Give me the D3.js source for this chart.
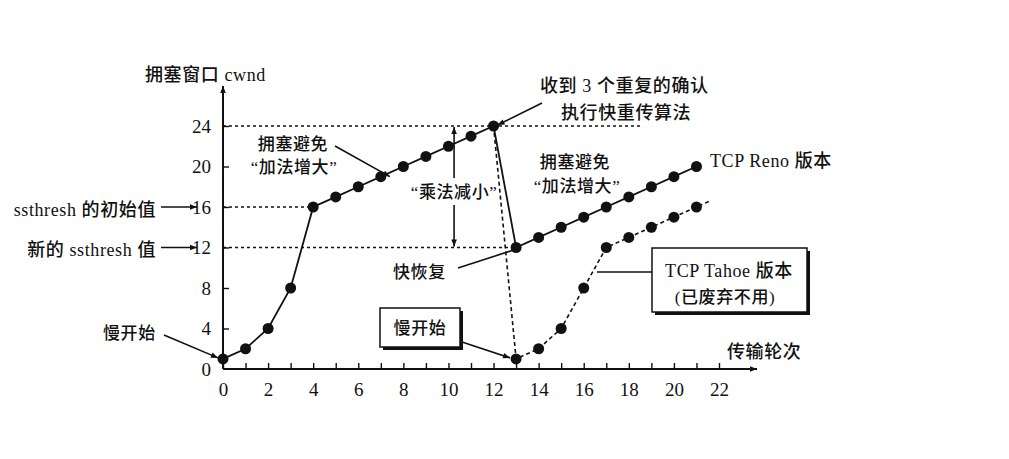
<!DOCTYPE html>
<html><head><meta charset="utf-8">
<script src="https://cdn.jsdelivr.net/npm/d3@7"></script>
<style>
body{margin:0;background:#fff;}
svg text{font-family:"Liberation Serif","Noto Sans CJK SC",serif;fill:#111;font-weight:500;}
</style></head>
<body><svg id="c" width="1009" height="459"></svg>
<script>
const renoX = [0,1,2,3,4,5,6,7,8,9,10,11,12,13,14,15,16,17,18,19,20,21];
const renoY = [1,2,4,8,16,17,18,19,20,21,22,23,24,12,13,14,15,16,17,18,19,20];
const tahoeX = [13,14,15,16,17,18,19,20,21];
const tahoeY = [1,2,4,8,12,13,14,15,16];
const xTicks = [0,2,4,6,8,10,12,14,16,18,20,22];
const yTicks = [0,4,8,12,16,20,24];

const svg = d3.select("#c");
const x = d3.scaleLinear().domain([0,22]).range([223,719]);
const y = d3.scaleLinear().domain([0,24]).range([369,126]);
const ink = "#111";

const defs = svg.append("defs");
defs.append("marker").attr("id","ah").attr("viewBox","0 0 10 10").attr("refX",10).attr("refY",5)
  .attr("markerWidth",9).attr("markerHeight",7).attr("markerUnits","userSpaceOnUse").attr("orient","auto")
  .append("path").attr("d","M0,1 L10,5 L0,9 Z").attr("fill",ink);

// threshold dashed lines
const dashLines = [[24, x(18.6)],[16, x(4)],[12, x(13)]];
dashLines.forEach(d=>{
  svg.append("line").attr("x1",x(0)).attr("x2",d[1]).attr("y1",y(d[0])).attr("y2",y(d[0]))
    .attr("stroke",ink).attr("stroke-width",1.3).attr("stroke-dasharray","3,3");
});

// axes
const xAxis = d3.axisBottom(x).tickValues(d3.range(0,23,1)).tickSize(-6).tickFormat(d=>xTicks.includes(d)?d:"").tickPadding(14);
const gx = svg.append("g").attr("transform",`translate(0,${y(0)})`).call(xAxis);
gx.select(".domain").remove();
gx.selectAll("line").attr("stroke",ink).attr("stroke-width",1.4);
gx.selectAll("text").attr("font-size",19).attr("font-family","Liberation Serif").attr("fill",ink);
svg.append("line").attr("x1",x(0)).attr("x2",757).attr("y1",y(0)).attr("y2",y(0))
  .attr("stroke",ink).attr("stroke-width",2).attr("marker-end","url(#ah)");

const yAxis = d3.axisLeft(y).tickValues(yTicks).tickSize(-6).tickPadding(12);
const gy = svg.append("g").attr("transform",`translate(${x(0)},0)`).call(yAxis);
gy.select(".domain").remove();
gy.selectAll("line").attr("stroke",ink).attr("stroke-width",1.4);
gy.selectAll("text").attr("font-size",19).attr("font-family","Liberation Serif").attr("fill",ink);
gy.selectAll(".tick").filter(d=>d===0).select("line").remove();
svg.append("line").attr("x1",x(0)).attr("x2",x(0)).attr("y1",y(0)).attr("y2",86)
  .attr("stroke",ink).attr("stroke-width",2).attr("marker-end","url(#ah)");

// Reno
const reno = renoX.map((v,i)=>[v,renoY[i]]);
const tahoe = tahoeX.map((v,i)=>[v,tahoeY[i]]);
const line = d3.line().x(d=>x(d[0])).y(d=>y(d[1]));
svg.append("path").attr("d",line(reno)).attr("fill","none").attr("stroke",ink).attr("stroke-width",1.8);
// Tahoe dashed from peak
const tahoePath = [reno[12]].concat(tahoe);
const ext = [tahoe[tahoe.length-1][0]+0.6, tahoe[tahoe.length-1][1]+0.6];
svg.append("path").attr("d",line(tahoePath.concat([ext]))).attr("fill","none").attr("stroke",ink)
  .attr("stroke-width",1.6).attr("stroke-dasharray","4,3");

svg.selectAll("circle.r").data(reno).join("circle").attr("class","r")
  .attr("cx",d=>x(d[0])).attr("cy",d=>y(d[1])).attr("r",5.5).attr("fill",ink);
svg.selectAll("circle.t").data(tahoe).join("circle").attr("class","t")
  .attr("cx",d=>x(d[0])).attr("cy",d=>y(d[1])).attr("r",5.5).attr("fill",ink);

function txt(s,px,py,size,anchor){
  return svg.append("text").attr("x",px).attr("y",py).attr("font-size",size||18)
    .attr("letter-spacing","0.6px").attr("text-anchor",anchor||"start").text(s);
}
function arrow(x1,y1,x2,y2,head){
  const l = svg.append("line").attr("x1",x1).attr("y1",y1).attr("x2",x2).attr("y2",y2)
    .attr("stroke",ink).attr("stroke-width",1.6);
  if(head!==false) l.attr("marker-end","url(#ah)");
  return l;
}

txt("拥塞窗口 cwnd",145,81,18);
txt("收到 3 个重复的确认",540,92,18);
txt("执行快重传算法",561,119,18);
arrow(542,103,x(12)+4,y(24)-1);

txt("拥塞避免",293,150,17,"middle");
txt("“加法增大”",294,173,17,"middle");
arrow(335,146,x(7.4),y(19.2)+2);

// multiplicative decrease
const mx = x(10.25);
arrow(mx,178,mx,y(24)+1);
arrow(mx,205,mx,y(12)-1);
txt("“乘法减小”",mx,198,17,"middle");

txt("拥塞避免",575,168,17,"middle");
txt("“加法增大”",577,192,17,"middle");
txt("TCP Reno 版本",710,167,18);

txt("ssthresh 的初始值",156,216,18,"end");
arrow(161,y(16),197,y(16));
txt("新的 ssthresh 值",156,256,18,"end");
arrow(161,y(12),197,y(12));

txt("快恢复",393,278,17);
arrow(458,268,x(13)-4,y(12)+3,false);

txt("慢开始",103,339,17);
arrow(164,335,x(0)-5,y(1)-1);

// slow start box
svg.append("rect").attr("x",383).attr("y",311).attr("width",80).attr("height",39).attr("fill",ink);
svg.append("rect").attr("x",380).attr("y",308).attr("width",80).attr("height",39).attr("fill","#fff").attr("stroke",ink).attr("stroke-width",1.5);
txt("慢开始",420,334,17,"middle");
arrow(462,342,x(13)-6,y(1)-1);

// Tahoe box
svg.append("line").attr("x1",597).attr("x2",652).attr("y1",272).attr("y2",272).attr("stroke",ink).attr("stroke-width",1.5);
svg.append("rect").attr("x",655).attr("y",251).attr("width",155).attr("height",64).attr("fill",ink);
svg.append("rect").attr("x",652).attr("y",248).attr("width",155).attr("height",64).attr("fill","#fff").attr("stroke",ink).attr("stroke-width",1.5);
txt("TCP Tahoe 版本",729,277,18,"middle");
txt("(已废弃不用)",725,303,17,"middle");

txt("传输轮次",727,358,18);
</script></body></html>
